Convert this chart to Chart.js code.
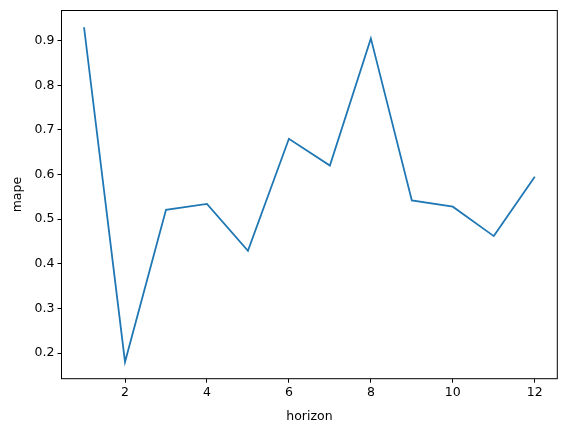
<!DOCTYPE html>
<html lang="en">
<head>
    <meta charset="UTF-8">
    <title>mape by horizon</title>
    <script src="https://cdn.jsdelivr.net/npm/chart.js"></script>
    <style>
        html, body { margin: 0; padding: 0; background: #fff; }
        #wrap { width: 567px; height: 432px; }
    </style>
</head>
<body>
    <div id="wrap"><canvas id="mapeChart" width="567" height="432"></canvas></div>

    <script>
        // values
        const horizon = [1, 2, 3, 4, 5, 6, 7, 8, 9, 10, 11, 12];
        const mape = [0.930, 0.180, 0.521, 0.534, 0.429, 0.680, 0.620, 0.905, 0.542, 0.528, 0.462, 0.595];
        const xTicks = [2, 4, 6, 8, 10, 12];
        const yTicks = [0.2, 0.3, 0.4, 0.5, 0.6, 0.7, 0.8, 0.9];

        const font = { family: 'DejaVu Sans', size: 12.5 };

        // matplotlib style frame around the plot area
        const frame = {
            id: 'frame',
            afterDraw(chart) {
                const { ctx, chartArea: a } = chart;
                ctx.save();
                ctx.strokeStyle = '#000';
                ctx.lineWidth = 1;
                ctx.strokeRect(a.left, a.top, a.right - a.left, a.bottom - a.top);
                ctx.restore();
            }
        };

        const ctx = document.getElementById('mapeChart').getContext('2d');
        new Chart(ctx, {
            type: 'line',
            data: {
                datasets: [{
                    label: 'mape',
                    data: horizon.map((h, i) => ({ x: h, y: mape[i] })),
                    borderColor: '#1f77b4',
                    borderWidth: 1.8,
                    pointRadius: 0,
                    tension: 0,
                    fill: false
                }]
            },
            options: {
                responsive: false,
                animation: false,
                layout: { padding: { top: 9.5, right: 9.7, left: 0, bottom: 0 } },
                plugins: { legend: { display: false }, tooltip: { enabled: false } },
                scales: {
                    x: {
                        type: 'linear',
                        min: 0.45,
                        max: 12.55,
                        afterBuildTicks: s => { s.ticks = xTicks.map(v => ({ value: v })); },
                        afterFit: s => { s.height = 53.3; },
                        border: { display: false },
                        grid: { drawOnChartArea: false, drawTicks: true, tickLength: 4, color: '#000' },
                        ticks: { color: '#000', font: font, padding: 3, maxRotation: 0 },
                        title: { display: true, text: 'horizon', color: '#000', font: font, padding: { top: 0, bottom: 7.5 } }
                    },
                    y: {
                        min: 0.1425,
                        max: 0.9675,
                        afterBuildTicks: s => { s.ticks = yTicks.map(v => ({ value: v })); },
                        afterFit: s => { s.width = 61.5; },
                        border: { display: false },
                        grid: { drawOnChartArea: false, drawTicks: true, tickLength: 4, color: '#000' },
                        ticks: { color: '#000', font: font, padding: 3, callback: v => v.toFixed(1) },
                        title: { display: true, text: 'mape', color: '#000', font: font, padding: { top: 10.5, bottom: 0 } }
                    }
                }
            },
            plugins: [frame]
        });
    </script>
</body>
</html>
